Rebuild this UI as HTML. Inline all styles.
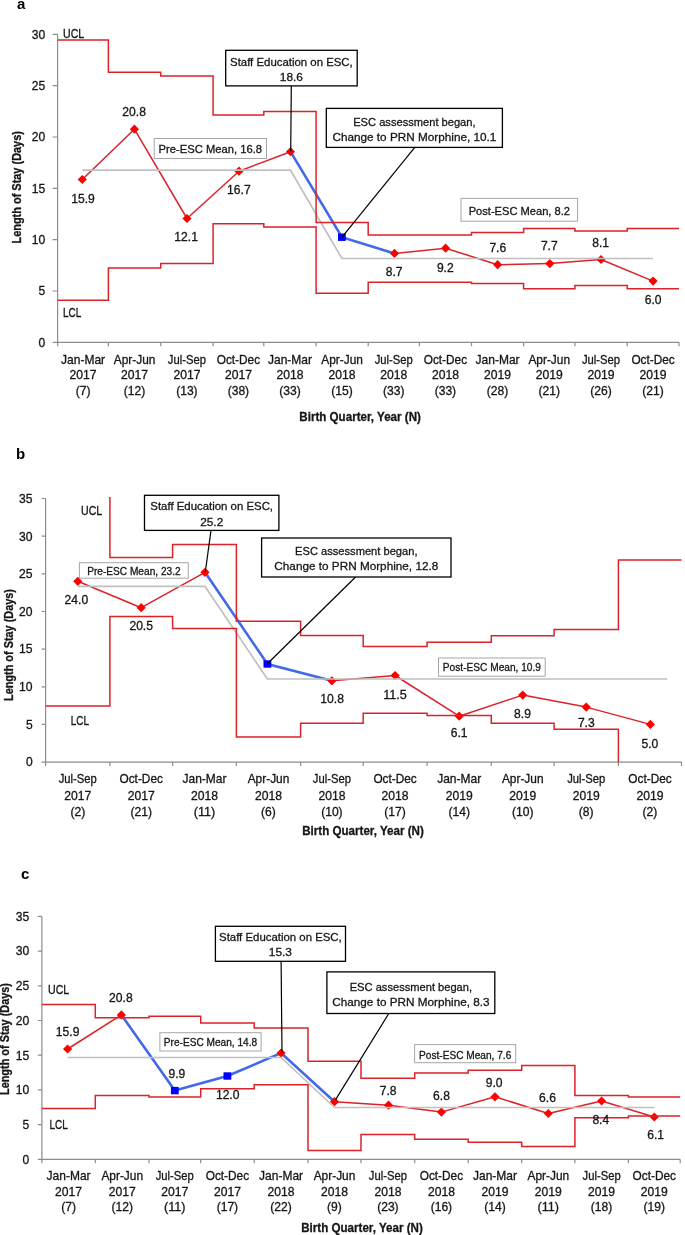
<!DOCTYPE html>
<html><head><meta charset="utf-8"><style>
html,body{margin:0;padding:0;background:#fff;}
svg{display:block;will-change:transform;}
text{font-family:"Liberation Sans", sans-serif;}
</style></head><body>
<svg width="685" height="1235" viewBox="0 0 685 1235">
<rect width="685" height="1235" fill="#fff"/>
<path d="M57.6,34.3 L57.6,342.3 L679.0,342.3" fill="none" stroke="#8c8c8c" stroke-width="1.2"/>
<text x="45.2" y="346.6" font-size="11.90" text-anchor="end" font-weight="normal" fill="#161616" stroke="#161616" stroke-width="0.3" textLength="6.7" lengthAdjust="spacingAndGlyphs">0</text>
<text x="45.2" y="295.3" font-size="11.90" text-anchor="end" font-weight="normal" fill="#161616" stroke="#161616" stroke-width="0.3" textLength="6.7" lengthAdjust="spacingAndGlyphs">5</text>
<text x="45.2" y="243.9" font-size="11.90" text-anchor="end" font-weight="normal" fill="#161616" stroke="#161616" stroke-width="0.3" textLength="13.5" lengthAdjust="spacingAndGlyphs">10</text>
<text x="45.2" y="192.6" font-size="11.90" text-anchor="end" font-weight="normal" fill="#161616" stroke="#161616" stroke-width="0.3" textLength="13.5" lengthAdjust="spacingAndGlyphs">15</text>
<text x="45.2" y="141.3" font-size="11.90" text-anchor="end" font-weight="normal" fill="#161616" stroke="#161616" stroke-width="0.3" textLength="13.5" lengthAdjust="spacingAndGlyphs">20</text>
<text x="45.2" y="89.9" font-size="11.90" text-anchor="end" font-weight="normal" fill="#161616" stroke="#161616" stroke-width="0.3" textLength="13.5" lengthAdjust="spacingAndGlyphs">25</text>
<text x="45.2" y="38.6" font-size="11.90" text-anchor="end" font-weight="normal" fill="#161616" stroke="#161616" stroke-width="0.3" textLength="13.5" lengthAdjust="spacingAndGlyphs">30</text>
<path d="M52.6,342.3 L57.6,342.3 M52.6,291.0 L57.6,291.0 M52.6,239.6 L57.6,239.6 M52.6,188.3 L57.6,188.3 M52.6,137.0 L57.6,137.0 M52.6,85.6 L57.6,85.6 M52.6,34.3 L57.6,34.3 M57.7,342.3 L57.7,346.3 M108.4,342.3 L108.4,346.3 M160.7,342.3 L160.7,346.3 M213.1,342.3 L213.1,346.3 M263.8,342.3 L263.8,346.3 M316.1,342.3 L316.1,346.3 M368.2,342.3 L368.2,346.3 M419.4,342.3 L419.4,346.3 M471.5,342.3 L471.5,346.3 M523.6,342.3 L523.6,346.3 M574.9,342.3 L574.9,346.3 M627.2,342.3 L627.2,346.3 M679.0,342.3 L679.0,346.3" stroke="#8c8c8c" stroke-width="1.2" fill="none"/>
<text x="83.1" y="364.2" font-size="11.90" text-anchor="middle" font-weight="normal" fill="#161616" stroke="#161616" stroke-width="0.3" textLength="44.0" lengthAdjust="spacingAndGlyphs">Jan-Mar</text>
<text x="83.1" y="379.4" font-size="11.90" text-anchor="middle" font-weight="normal" fill="#161616" stroke="#161616" stroke-width="0.3" textLength="27.0" lengthAdjust="spacingAndGlyphs">2017</text>
<text x="83.1" y="394.6" font-size="11.90" text-anchor="middle" font-weight="normal" fill="#161616" stroke="#161616" stroke-width="0.3" textLength="14.8" lengthAdjust="spacingAndGlyphs">(7)</text>
<text x="134.6" y="364.2" font-size="11.90" text-anchor="middle" font-weight="normal" fill="#161616" stroke="#161616" stroke-width="0.3" textLength="41.6" lengthAdjust="spacingAndGlyphs">Apr-Jun</text>
<text x="134.6" y="379.4" font-size="11.90" text-anchor="middle" font-weight="normal" fill="#161616" stroke="#161616" stroke-width="0.3" textLength="27.0" lengthAdjust="spacingAndGlyphs">2017</text>
<text x="134.6" y="394.6" font-size="11.90" text-anchor="middle" font-weight="normal" fill="#161616" stroke="#161616" stroke-width="0.3" textLength="21.5" lengthAdjust="spacingAndGlyphs">(12)</text>
<text x="186.9" y="364.2" font-size="11.90" text-anchor="middle" font-weight="normal" fill="#161616" stroke="#161616" stroke-width="0.3" textLength="38.1" lengthAdjust="spacingAndGlyphs">Jul-Sep</text>
<text x="186.9" y="379.4" font-size="11.90" text-anchor="middle" font-weight="normal" fill="#161616" stroke="#161616" stroke-width="0.3" textLength="27.0" lengthAdjust="spacingAndGlyphs">2017</text>
<text x="186.9" y="394.6" font-size="11.90" text-anchor="middle" font-weight="normal" fill="#161616" stroke="#161616" stroke-width="0.3" textLength="21.5" lengthAdjust="spacingAndGlyphs">(13)</text>
<text x="238.4" y="364.2" font-size="11.90" text-anchor="middle" font-weight="normal" fill="#161616" stroke="#161616" stroke-width="0.3" textLength="43.4" lengthAdjust="spacingAndGlyphs">Oct-Dec</text>
<text x="238.4" y="379.4" font-size="11.90" text-anchor="middle" font-weight="normal" fill="#161616" stroke="#161616" stroke-width="0.3" textLength="27.0" lengthAdjust="spacingAndGlyphs">2017</text>
<text x="238.4" y="394.6" font-size="11.90" text-anchor="middle" font-weight="normal" fill="#161616" stroke="#161616" stroke-width="0.3" textLength="21.5" lengthAdjust="spacingAndGlyphs">(38)</text>
<text x="290.0" y="364.2" font-size="11.90" text-anchor="middle" font-weight="normal" fill="#161616" stroke="#161616" stroke-width="0.3" textLength="44.0" lengthAdjust="spacingAndGlyphs">Jan-Mar</text>
<text x="290.0" y="379.4" font-size="11.90" text-anchor="middle" font-weight="normal" fill="#161616" stroke="#161616" stroke-width="0.3" textLength="27.0" lengthAdjust="spacingAndGlyphs">2018</text>
<text x="290.0" y="394.6" font-size="11.90" text-anchor="middle" font-weight="normal" fill="#161616" stroke="#161616" stroke-width="0.3" textLength="21.5" lengthAdjust="spacingAndGlyphs">(33)</text>
<text x="342.1" y="364.2" font-size="11.90" text-anchor="middle" font-weight="normal" fill="#161616" stroke="#161616" stroke-width="0.3" textLength="41.6" lengthAdjust="spacingAndGlyphs">Apr-Jun</text>
<text x="342.1" y="379.4" font-size="11.90" text-anchor="middle" font-weight="normal" fill="#161616" stroke="#161616" stroke-width="0.3" textLength="27.0" lengthAdjust="spacingAndGlyphs">2018</text>
<text x="342.1" y="394.6" font-size="11.90" text-anchor="middle" font-weight="normal" fill="#161616" stroke="#161616" stroke-width="0.3" textLength="21.5" lengthAdjust="spacingAndGlyphs">(15)</text>
<text x="393.8" y="364.2" font-size="11.90" text-anchor="middle" font-weight="normal" fill="#161616" stroke="#161616" stroke-width="0.3" textLength="38.1" lengthAdjust="spacingAndGlyphs">Jul-Sep</text>
<text x="393.8" y="379.4" font-size="11.90" text-anchor="middle" font-weight="normal" fill="#161616" stroke="#161616" stroke-width="0.3" textLength="27.0" lengthAdjust="spacingAndGlyphs">2018</text>
<text x="393.8" y="394.6" font-size="11.90" text-anchor="middle" font-weight="normal" fill="#161616" stroke="#161616" stroke-width="0.3" textLength="21.5" lengthAdjust="spacingAndGlyphs">(33)</text>
<text x="445.4" y="364.2" font-size="11.90" text-anchor="middle" font-weight="normal" fill="#161616" stroke="#161616" stroke-width="0.3" textLength="43.4" lengthAdjust="spacingAndGlyphs">Oct-Dec</text>
<text x="445.4" y="379.4" font-size="11.90" text-anchor="middle" font-weight="normal" fill="#161616" stroke="#161616" stroke-width="0.3" textLength="27.0" lengthAdjust="spacingAndGlyphs">2018</text>
<text x="445.4" y="394.6" font-size="11.90" text-anchor="middle" font-weight="normal" fill="#161616" stroke="#161616" stroke-width="0.3" textLength="21.5" lengthAdjust="spacingAndGlyphs">(33)</text>
<text x="497.6" y="364.2" font-size="11.90" text-anchor="middle" font-weight="normal" fill="#161616" stroke="#161616" stroke-width="0.3" textLength="44.0" lengthAdjust="spacingAndGlyphs">Jan-Mar</text>
<text x="497.6" y="379.4" font-size="11.90" text-anchor="middle" font-weight="normal" fill="#161616" stroke="#161616" stroke-width="0.3" textLength="27.0" lengthAdjust="spacingAndGlyphs">2019</text>
<text x="497.6" y="394.6" font-size="11.90" text-anchor="middle" font-weight="normal" fill="#161616" stroke="#161616" stroke-width="0.3" textLength="21.5" lengthAdjust="spacingAndGlyphs">(28)</text>
<text x="549.2" y="364.2" font-size="11.90" text-anchor="middle" font-weight="normal" fill="#161616" stroke="#161616" stroke-width="0.3" textLength="41.6" lengthAdjust="spacingAndGlyphs">Apr-Jun</text>
<text x="549.2" y="379.4" font-size="11.90" text-anchor="middle" font-weight="normal" fill="#161616" stroke="#161616" stroke-width="0.3" textLength="27.0" lengthAdjust="spacingAndGlyphs">2019</text>
<text x="549.2" y="394.6" font-size="11.90" text-anchor="middle" font-weight="normal" fill="#161616" stroke="#161616" stroke-width="0.3" textLength="21.5" lengthAdjust="spacingAndGlyphs">(21)</text>
<text x="601.0" y="364.2" font-size="11.90" text-anchor="middle" font-weight="normal" fill="#161616" stroke="#161616" stroke-width="0.3" textLength="38.1" lengthAdjust="spacingAndGlyphs">Jul-Sep</text>
<text x="601.0" y="379.4" font-size="11.90" text-anchor="middle" font-weight="normal" fill="#161616" stroke="#161616" stroke-width="0.3" textLength="27.0" lengthAdjust="spacingAndGlyphs">2019</text>
<text x="601.0" y="394.6" font-size="11.90" text-anchor="middle" font-weight="normal" fill="#161616" stroke="#161616" stroke-width="0.3" textLength="21.5" lengthAdjust="spacingAndGlyphs">(26)</text>
<text x="653.1" y="364.2" font-size="11.90" text-anchor="middle" font-weight="normal" fill="#161616" stroke="#161616" stroke-width="0.3" textLength="43.4" lengthAdjust="spacingAndGlyphs">Oct-Dec</text>
<text x="653.1" y="379.4" font-size="11.90" text-anchor="middle" font-weight="normal" fill="#161616" stroke="#161616" stroke-width="0.3" textLength="27.0" lengthAdjust="spacingAndGlyphs">2019</text>
<text x="653.1" y="394.6" font-size="11.90" text-anchor="middle" font-weight="normal" fill="#161616" stroke="#161616" stroke-width="0.3" textLength="21.5" lengthAdjust="spacingAndGlyphs">(21)</text>
<text x="360.1" y="421.0" font-size="12.40" text-anchor="middle" font-weight="bold" fill="#161616" stroke="#161616" stroke-width="0.3" textLength="121.6" lengthAdjust="spacingAndGlyphs">Birth Quarter, Year (N)</text>
<text x="0.0" y="0.0" font-size="12.40" text-anchor="middle" font-weight="bold" fill="#161616" stroke="#161616" stroke-width="0.3" textLength="112.5" lengthAdjust="spacingAndGlyphs" transform="translate(20.5,187.3) rotate(-90)">Length of Stay (Days)</text>
<path d="M82.3,179.5 L134.4,129.2" fill="none" stroke="#dc2228" stroke-width="1.5" stroke-linejoin="miter"/>
<path d="M134.4,129.2 L187.0,218.5" fill="none" stroke="#dc2228" stroke-width="1.5" stroke-linejoin="miter"/>
<path d="M187.0,218.5 L239.0,171.2" fill="none" stroke="#dc2228" stroke-width="1.5" stroke-linejoin="miter"/>
<path d="M239.0,171.2 L290.5,151.7" fill="none" stroke="#dc2228" stroke-width="1.5" stroke-linejoin="miter"/>
<path d="M394.5,253.4 L445.6,248.2" fill="none" stroke="#dc2228" stroke-width="1.5" stroke-linejoin="miter"/>
<path d="M445.6,248.2 L497.6,264.7" fill="none" stroke="#dc2228" stroke-width="1.5" stroke-linejoin="miter"/>
<path d="M497.6,264.7 L549.8,263.6" fill="none" stroke="#dc2228" stroke-width="1.5" stroke-linejoin="miter"/>
<path d="M549.8,263.6 L601.0,259.5" fill="none" stroke="#dc2228" stroke-width="1.5" stroke-linejoin="miter"/>
<path d="M601.0,259.5 L653.1,281.1" fill="none" stroke="#dc2228" stroke-width="1.5" stroke-linejoin="miter"/>
<path d="M290.5,151.7 L341.9,237.2 L394.5,253.4" fill="none" stroke="#4169e8" stroke-width="2.6" stroke-linejoin="miter"/>
<path d="M82.3,174.9 L86.9,179.5 L82.3,184.1 L77.7,179.5Z" fill="#ff0000"/>
<path d="M134.4,124.6 L139.0,129.2 L134.4,133.8 L129.8,129.2Z" fill="#ff0000"/>
<path d="M187.0,213.9 L191.6,218.5 L187.0,223.1 L182.4,218.5Z" fill="#ff0000"/>
<path d="M239.0,166.6 L243.6,171.2 L239.0,175.8 L234.4,171.2Z" fill="#ff0000"/>
<path d="M290.5,147.1 L295.1,151.7 L290.5,156.3 L285.9,151.7Z" fill="#ff0000"/>
<rect x="338.0" y="233.5" width="7.8" height="7.4" fill="#0000ff"/>
<path d="M394.5,248.8 L399.1,253.4 L394.5,258.0 L389.9,253.4Z" fill="#ff0000"/>
<path d="M445.6,243.6 L450.2,248.2 L445.6,252.8 L441.0,248.2Z" fill="#ff0000"/>
<path d="M497.6,260.1 L502.2,264.7 L497.6,269.3 L493.0,264.7Z" fill="#ff0000"/>
<path d="M549.8,259.0 L554.4,263.6 L549.8,268.2 L545.2,263.6Z" fill="#ff0000"/>
<path d="M601.0,254.9 L605.6,259.5 L601.0,264.1 L596.4,259.5Z" fill="#ff0000"/>
<path d="M653.1,276.5 L657.7,281.1 L653.1,285.7 L648.5,281.1Z" fill="#ff0000"/>
<path d="M82.3,170.2 L290.5,170.2 L341.9,258.5 L653.1,258.5" fill="none" stroke="#c0c0c0" stroke-width="1.7" stroke-linejoin="miter"/>
<clipPath id="clip576"><rect x="57.6" y="28.3" width="624.4" height="314.0"/></clipPath>
<path d="M57.7,39.9 L108.4,39.9 L108.4,72.2 L160.7,72.2 L160.7,75.9 L213.1,75.9 L213.1,115.1 L263.8,115.1 L263.8,111.6 L316.1,111.6 L316.1,222.4 L368.2,222.4 L368.2,234.9 L419.4,234.9 L419.4,234.9 L471.5,234.9 L471.5,232.4 L523.6,232.4 L523.6,228.6 L574.9,228.6 L574.9,231.1 L627.2,231.1 L627.2,228.6 L679.0,228.6" fill="none" stroke="#dc2228" stroke-width="1.5" stroke-linejoin="miter" clip-path="url(#clip576)"/>
<path d="M57.7,300.3 L108.4,300.3 L108.4,268.0 L160.7,268.0 L160.7,263.5 L213.1,263.5 L213.1,223.8 L263.8,223.8 L263.8,226.9 L316.1,226.9 L316.1,293.3 L368.2,293.3 L368.2,282.2 L419.4,282.2 L419.4,282.2 L471.5,282.2 L471.5,283.4 L523.6,283.4 L523.6,288.8 L574.9,288.8 L574.9,285.4 L627.2,285.4 L627.2,288.8 L679.0,288.8" fill="none" stroke="#dc2228" stroke-width="1.5" stroke-linejoin="miter" clip-path="url(#clip576)"/>
<text x="83.0" y="202.8" font-size="11.90" text-anchor="middle" font-weight="normal" fill="#161616" stroke="#161616" stroke-width="0.3" textLength="23.6" lengthAdjust="spacingAndGlyphs">15.9</text>
<text x="134.1" y="116.2" font-size="11.90" text-anchor="middle" font-weight="normal" fill="#161616" stroke="#161616" stroke-width="0.3" textLength="23.6" lengthAdjust="spacingAndGlyphs">20.8</text>
<text x="186.1" y="240.6" font-size="11.90" text-anchor="middle" font-weight="normal" fill="#161616" stroke="#161616" stroke-width="0.3" textLength="23.6" lengthAdjust="spacingAndGlyphs">12.1</text>
<text x="238.9" y="193.7" font-size="11.90" text-anchor="middle" font-weight="normal" fill="#161616" stroke="#161616" stroke-width="0.3" textLength="23.6" lengthAdjust="spacingAndGlyphs">16.7</text>
<text x="394.2" y="275.6" font-size="11.90" text-anchor="middle" font-weight="normal" fill="#161616" stroke="#161616" stroke-width="0.3" textLength="16.8" lengthAdjust="spacingAndGlyphs">8.7</text>
<text x="445.3" y="271.6" font-size="11.90" text-anchor="middle" font-weight="normal" fill="#161616" stroke="#161616" stroke-width="0.3" textLength="16.8" lengthAdjust="spacingAndGlyphs">9.2</text>
<text x="497.8" y="252.2" font-size="11.90" text-anchor="middle" font-weight="normal" fill="#161616" stroke="#161616" stroke-width="0.3" textLength="16.8" lengthAdjust="spacingAndGlyphs">7.6</text>
<text x="549.3" y="250.4" font-size="11.90" text-anchor="middle" font-weight="normal" fill="#161616" stroke="#161616" stroke-width="0.3" textLength="16.8" lengthAdjust="spacingAndGlyphs">7.7</text>
<text x="600.6" y="247.0" font-size="11.90" text-anchor="middle" font-weight="normal" fill="#161616" stroke="#161616" stroke-width="0.3" textLength="16.8" lengthAdjust="spacingAndGlyphs">8.1</text>
<text x="653.2" y="304.4" font-size="11.90" text-anchor="middle" font-weight="normal" fill="#161616" stroke="#161616" stroke-width="0.3" textLength="16.8" lengthAdjust="spacingAndGlyphs">6.0</text>
<text x="63.0" y="38.0" font-size="11.90" text-anchor="start" font-weight="normal" fill="#161616" stroke="#161616" stroke-width="0.3" textLength="21.2" lengthAdjust="spacingAndGlyphs">UCL</text>
<text x="63.0" y="316.7" font-size="11.90" text-anchor="start" font-weight="normal" fill="#161616" stroke="#161616" stroke-width="0.3" textLength="18.3" lengthAdjust="spacingAndGlyphs">LCL</text>
<rect x="154.2" y="138.5" width="112.3" height="20.0" fill="#fff" stroke="#a6a6a6" stroke-width="1"/>
<text x="210.3" y="153.3" font-size="11.59" text-anchor="middle" font-weight="normal" fill="#161616" stroke="#161616" stroke-width="0.3" textLength="103.4" lengthAdjust="spacingAndGlyphs">Pre-ESC Mean, 16.8</text>
<rect x="461.0" y="198.4" width="116.6" height="22.8" fill="#fff" stroke="#a6a6a6" stroke-width="1"/>
<text x="519.3" y="215.0" font-size="11.50" text-anchor="middle" font-weight="normal" fill="#161616" stroke="#161616" stroke-width="0.3" textLength="101.3" lengthAdjust="spacingAndGlyphs">Post-ESC Mean, 8.2</text>
<path d="M291.3,85.9 L290.7,151.3" fill="none" stroke="#000" stroke-width="1.2" stroke-linejoin="miter"/>
<rect x="225.7" y="50.3" width="131.5" height="35.6" fill="#fff" stroke="#000" stroke-width="1.3"/>
<text x="291.4" y="66.2" font-size="11.68" text-anchor="middle" font-weight="normal" fill="#161616" stroke="#161616" stroke-width="0.3" textLength="122.7" lengthAdjust="spacingAndGlyphs">Staff Education on ESC,</text>
<text x="291.4" y="81.4" font-size="11.68" text-anchor="middle" font-weight="normal" fill="#161616" stroke="#161616" stroke-width="0.3" textLength="23.1" lengthAdjust="spacingAndGlyphs">18.6</text>
<path d="M414.8,147.4 L342.0,237.2" fill="none" stroke="#000" stroke-width="1.2" stroke-linejoin="miter"/>
<rect x="326.3" y="108.4" width="176.1" height="39.0" fill="#fff" stroke="#000" stroke-width="1.3"/>
<text x="414.4" y="126.3" font-size="11.68" text-anchor="middle" font-weight="normal" fill="#161616" stroke="#161616" stroke-width="0.3" textLength="122.4" lengthAdjust="spacingAndGlyphs">ESC assessment began,</text>
<text x="414.4" y="141.2" font-size="11.68" text-anchor="middle" font-weight="normal" fill="#161616" stroke="#161616" stroke-width="0.3" textLength="163.9" lengthAdjust="spacingAndGlyphs">Change to PRN Morphine, 10.1</text>
<text x="17" y="8.6" font-size="15" font-weight="bold" fill="#000">a</text>
<path d="M45.6,498.5 L45.6,762.1 L681.5,762.1" fill="none" stroke="#8c8c8c" stroke-width="1.2"/>
<text x="32.6" y="766.4" font-size="11.90" text-anchor="end" font-weight="normal" fill="#161616" stroke="#161616" stroke-width="0.3" textLength="6.7" lengthAdjust="spacingAndGlyphs">0</text>
<text x="32.6" y="728.7" font-size="11.90" text-anchor="end" font-weight="normal" fill="#161616" stroke="#161616" stroke-width="0.3" textLength="6.7" lengthAdjust="spacingAndGlyphs">5</text>
<text x="32.6" y="691.1" font-size="11.90" text-anchor="end" font-weight="normal" fill="#161616" stroke="#161616" stroke-width="0.3" textLength="13.5" lengthAdjust="spacingAndGlyphs">10</text>
<text x="32.6" y="653.4" font-size="11.90" text-anchor="end" font-weight="normal" fill="#161616" stroke="#161616" stroke-width="0.3" textLength="13.5" lengthAdjust="spacingAndGlyphs">15</text>
<text x="32.6" y="615.8" font-size="11.90" text-anchor="end" font-weight="normal" fill="#161616" stroke="#161616" stroke-width="0.3" textLength="13.5" lengthAdjust="spacingAndGlyphs">20</text>
<text x="32.6" y="578.1" font-size="11.90" text-anchor="end" font-weight="normal" fill="#161616" stroke="#161616" stroke-width="0.3" textLength="13.5" lengthAdjust="spacingAndGlyphs">25</text>
<text x="32.6" y="540.5" font-size="11.90" text-anchor="end" font-weight="normal" fill="#161616" stroke="#161616" stroke-width="0.3" textLength="13.5" lengthAdjust="spacingAndGlyphs">30</text>
<text x="32.6" y="502.8" font-size="11.90" text-anchor="end" font-weight="normal" fill="#161616" stroke="#161616" stroke-width="0.3" textLength="13.5" lengthAdjust="spacingAndGlyphs">35</text>
<path d="M41.6,762.1 L45.6,762.1 M41.6,724.4 L45.6,724.4 M41.6,686.8 L45.6,686.8 M41.6,649.1 L45.6,649.1 M41.6,611.5 L45.6,611.5 M41.6,573.8 L45.6,573.8 M41.6,536.2 L45.6,536.2 M41.6,498.5 L45.6,498.5 M45.6,762.1 L45.6,766.1 M109.9,762.1 L109.9,766.1 M172.6,762.1 L172.6,766.1 M236.4,762.1 L236.4,766.1 M300.6,762.1 L300.6,766.1 M363.2,762.1 L363.2,766.1 M427.1,762.1 L427.1,766.1 M491.3,762.1 L491.3,766.1 M554.1,762.1 L554.1,766.1 M618.4,762.1 L618.4,766.1 M681.5,762.1 L681.5,766.1" stroke="#8c8c8c" stroke-width="1.2" fill="none"/>
<text x="77.8" y="783.4" font-size="11.90" text-anchor="middle" font-weight="normal" fill="#161616" stroke="#161616" stroke-width="0.3" textLength="38.1" lengthAdjust="spacingAndGlyphs">Jul-Sep</text>
<text x="77.8" y="799.5" font-size="11.90" text-anchor="middle" font-weight="normal" fill="#161616" stroke="#161616" stroke-width="0.3" textLength="27.0" lengthAdjust="spacingAndGlyphs">2017</text>
<text x="77.8" y="816.1" font-size="11.90" text-anchor="middle" font-weight="normal" fill="#161616" stroke="#161616" stroke-width="0.3" textLength="14.8" lengthAdjust="spacingAndGlyphs">(2)</text>
<text x="141.2" y="783.4" font-size="11.90" text-anchor="middle" font-weight="normal" fill="#161616" stroke="#161616" stroke-width="0.3" textLength="43.4" lengthAdjust="spacingAndGlyphs">Oct-Dec</text>
<text x="141.2" y="799.5" font-size="11.90" text-anchor="middle" font-weight="normal" fill="#161616" stroke="#161616" stroke-width="0.3" textLength="27.0" lengthAdjust="spacingAndGlyphs">2017</text>
<text x="141.2" y="816.1" font-size="11.90" text-anchor="middle" font-weight="normal" fill="#161616" stroke="#161616" stroke-width="0.3" textLength="21.5" lengthAdjust="spacingAndGlyphs">(21)</text>
<text x="204.5" y="783.4" font-size="11.90" text-anchor="middle" font-weight="normal" fill="#161616" stroke="#161616" stroke-width="0.3" textLength="44.0" lengthAdjust="spacingAndGlyphs">Jan-Mar</text>
<text x="204.5" y="799.5" font-size="11.90" text-anchor="middle" font-weight="normal" fill="#161616" stroke="#161616" stroke-width="0.3" textLength="27.0" lengthAdjust="spacingAndGlyphs">2018</text>
<text x="204.5" y="816.1" font-size="11.90" text-anchor="middle" font-weight="normal" fill="#161616" stroke="#161616" stroke-width="0.3" textLength="21.5" lengthAdjust="spacingAndGlyphs">(11)</text>
<text x="268.5" y="783.4" font-size="11.90" text-anchor="middle" font-weight="normal" fill="#161616" stroke="#161616" stroke-width="0.3" textLength="41.6" lengthAdjust="spacingAndGlyphs">Apr-Jun</text>
<text x="268.5" y="799.5" font-size="11.90" text-anchor="middle" font-weight="normal" fill="#161616" stroke="#161616" stroke-width="0.3" textLength="27.0" lengthAdjust="spacingAndGlyphs">2018</text>
<text x="268.5" y="816.1" font-size="11.90" text-anchor="middle" font-weight="normal" fill="#161616" stroke="#161616" stroke-width="0.3" textLength="14.8" lengthAdjust="spacingAndGlyphs">(6)</text>
<text x="331.9" y="783.4" font-size="11.90" text-anchor="middle" font-weight="normal" fill="#161616" stroke="#161616" stroke-width="0.3" textLength="38.1" lengthAdjust="spacingAndGlyphs">Jul-Sep</text>
<text x="331.9" y="799.5" font-size="11.90" text-anchor="middle" font-weight="normal" fill="#161616" stroke="#161616" stroke-width="0.3" textLength="27.0" lengthAdjust="spacingAndGlyphs">2018</text>
<text x="331.9" y="816.1" font-size="11.90" text-anchor="middle" font-weight="normal" fill="#161616" stroke="#161616" stroke-width="0.3" textLength="21.5" lengthAdjust="spacingAndGlyphs">(10)</text>
<text x="395.1" y="783.4" font-size="11.90" text-anchor="middle" font-weight="normal" fill="#161616" stroke="#161616" stroke-width="0.3" textLength="43.4" lengthAdjust="spacingAndGlyphs">Oct-Dec</text>
<text x="395.1" y="799.5" font-size="11.90" text-anchor="middle" font-weight="normal" fill="#161616" stroke="#161616" stroke-width="0.3" textLength="27.0" lengthAdjust="spacingAndGlyphs">2018</text>
<text x="395.1" y="816.1" font-size="11.90" text-anchor="middle" font-weight="normal" fill="#161616" stroke="#161616" stroke-width="0.3" textLength="21.5" lengthAdjust="spacingAndGlyphs">(17)</text>
<text x="459.2" y="783.4" font-size="11.90" text-anchor="middle" font-weight="normal" fill="#161616" stroke="#161616" stroke-width="0.3" textLength="44.0" lengthAdjust="spacingAndGlyphs">Jan-Mar</text>
<text x="459.2" y="799.5" font-size="11.90" text-anchor="middle" font-weight="normal" fill="#161616" stroke="#161616" stroke-width="0.3" textLength="27.0" lengthAdjust="spacingAndGlyphs">2019</text>
<text x="459.2" y="816.1" font-size="11.90" text-anchor="middle" font-weight="normal" fill="#161616" stroke="#161616" stroke-width="0.3" textLength="21.5" lengthAdjust="spacingAndGlyphs">(14)</text>
<text x="522.7" y="783.4" font-size="11.90" text-anchor="middle" font-weight="normal" fill="#161616" stroke="#161616" stroke-width="0.3" textLength="41.6" lengthAdjust="spacingAndGlyphs">Apr-Jun</text>
<text x="522.7" y="799.5" font-size="11.90" text-anchor="middle" font-weight="normal" fill="#161616" stroke="#161616" stroke-width="0.3" textLength="27.0" lengthAdjust="spacingAndGlyphs">2019</text>
<text x="522.7" y="816.1" font-size="11.90" text-anchor="middle" font-weight="normal" fill="#161616" stroke="#161616" stroke-width="0.3" textLength="21.5" lengthAdjust="spacingAndGlyphs">(10)</text>
<text x="586.2" y="783.4" font-size="11.90" text-anchor="middle" font-weight="normal" fill="#161616" stroke="#161616" stroke-width="0.3" textLength="38.1" lengthAdjust="spacingAndGlyphs">Jul-Sep</text>
<text x="586.2" y="799.5" font-size="11.90" text-anchor="middle" font-weight="normal" fill="#161616" stroke="#161616" stroke-width="0.3" textLength="27.0" lengthAdjust="spacingAndGlyphs">2019</text>
<text x="586.2" y="816.1" font-size="11.90" text-anchor="middle" font-weight="normal" fill="#161616" stroke="#161616" stroke-width="0.3" textLength="14.8" lengthAdjust="spacingAndGlyphs">(8)</text>
<text x="650.0" y="783.4" font-size="11.90" text-anchor="middle" font-weight="normal" fill="#161616" stroke="#161616" stroke-width="0.3" textLength="43.4" lengthAdjust="spacingAndGlyphs">Oct-Dec</text>
<text x="650.0" y="799.5" font-size="11.90" text-anchor="middle" font-weight="normal" fill="#161616" stroke="#161616" stroke-width="0.3" textLength="27.0" lengthAdjust="spacingAndGlyphs">2019</text>
<text x="650.0" y="816.1" font-size="11.90" text-anchor="middle" font-weight="normal" fill="#161616" stroke="#161616" stroke-width="0.3" textLength="14.8" lengthAdjust="spacingAndGlyphs">(2)</text>
<text x="363.0" y="834.8" font-size="12.40" text-anchor="middle" font-weight="bold" fill="#161616" stroke="#161616" stroke-width="0.3" textLength="121.6" lengthAdjust="spacingAndGlyphs">Birth Quarter, Year (N)</text>
<text x="0.0" y="0.0" font-size="12.40" text-anchor="middle" font-weight="bold" fill="#161616" stroke="#161616" stroke-width="0.3" textLength="112.0" lengthAdjust="spacingAndGlyphs" transform="translate(12.5,645.0) rotate(-90)">Length of Stay (Days)</text>
<path d="M77.8,581.3 L141.2,607.7" fill="none" stroke="#dc2228" stroke-width="1.5" stroke-linejoin="miter"/>
<path d="M141.2,607.7 L205.0,572.3" fill="none" stroke="#dc2228" stroke-width="1.5" stroke-linejoin="miter"/>
<path d="M331.9,680.8 L395.1,675.5" fill="none" stroke="#dc2228" stroke-width="1.5" stroke-linejoin="miter"/>
<path d="M395.1,675.5 L459.2,716.2" fill="none" stroke="#dc2228" stroke-width="1.5" stroke-linejoin="miter"/>
<path d="M459.2,716.2 L522.7,695.1" fill="none" stroke="#dc2228" stroke-width="1.5" stroke-linejoin="miter"/>
<path d="M522.7,695.1 L586.2,707.1" fill="none" stroke="#dc2228" stroke-width="1.5" stroke-linejoin="miter"/>
<path d="M586.2,707.1 L650.4,724.4" fill="none" stroke="#dc2228" stroke-width="1.5" stroke-linejoin="miter"/>
<path d="M205.0,572.3 L267.4,664.0 L331.9,680.8" fill="none" stroke="#4169e8" stroke-width="2.6" stroke-linejoin="miter"/>
<path d="M77.8,576.7 L82.3,581.3 L77.8,585.9 L73.2,581.3Z" fill="#ff0000"/>
<path d="M141.2,603.1 L145.8,607.7 L141.2,612.3 L136.7,607.7Z" fill="#ff0000"/>
<path d="M205.0,567.7 L209.6,572.3 L205.0,576.9 L200.4,572.3Z" fill="#ff0000"/>
<rect x="263.5" y="660.3" width="7.8" height="7.4" fill="#0000ff"/>
<path d="M331.9,676.2 L336.5,680.8 L331.9,685.4 L327.3,680.8Z" fill="#ff0000"/>
<path d="M395.1,670.9 L399.8,675.5 L395.1,680.1 L390.5,675.5Z" fill="#ff0000"/>
<path d="M459.2,711.6 L463.8,716.2 L459.2,720.8 L454.6,716.2Z" fill="#ff0000"/>
<path d="M522.7,690.5 L527.3,695.1 L522.7,699.7 L518.1,695.1Z" fill="#ff0000"/>
<path d="M586.2,702.5 L590.9,707.1 L586.2,711.7 L581.6,707.1Z" fill="#ff0000"/>
<path d="M650.4,719.8 L655.0,724.4 L650.4,729.0 L645.8,724.4Z" fill="#ff0000"/>
<path d="M77.8,586.4 L205.0,586.4 L267.4,679.0 L667.3,679.0" fill="none" stroke="#c0c0c0" stroke-width="1.7" stroke-linejoin="miter"/>
<clipPath id="clip456"><rect x="45.6" y="496.9" width="638.9" height="265.2"/></clipPath>
<path d="M45.6,400.0 L109.9,400.0 L109.9,557.4 L172.6,557.4 L172.6,544.6 L236.4,544.6 L236.4,621.3 L300.6,621.3 L300.6,635.6 L363.2,635.6 L363.2,646.4 L427.1,646.4 L427.1,642.3 L491.3,642.3 L491.3,635.8 L554.1,635.8 L554.1,629.5 L618.4,629.5 L618.4,560.0 L681.5,560.0" fill="none" stroke="#dc2228" stroke-width="1.5" stroke-linejoin="miter" clip-path="url(#clip456)"/>
<path d="M45.6,706.0 L109.9,706.0 L109.9,616.6 L172.6,616.6 L172.6,628.5 L236.4,628.5 L236.4,737.1 L300.6,737.1 L300.6,723.3 L363.2,723.3 L363.2,713.3 L427.1,713.3 L427.1,715.6 L491.3,715.6 L491.3,723.3 L554.1,723.3 L554.1,729.2 L618.4,729.2 L618.4,900.0 L681.5,900.0" fill="none" stroke="#dc2228" stroke-width="1.5" stroke-linejoin="miter" clip-path="url(#clip456)"/>
<text x="76.4" y="603.6" font-size="11.90" text-anchor="middle" font-weight="normal" fill="#161616" stroke="#161616" stroke-width="0.3" textLength="23.6" lengthAdjust="spacingAndGlyphs">24.0</text>
<text x="141.2" y="629.8" font-size="11.90" text-anchor="middle" font-weight="normal" fill="#161616" stroke="#161616" stroke-width="0.3" textLength="23.6" lengthAdjust="spacingAndGlyphs">20.5</text>
<text x="332.1" y="703.3" font-size="11.90" text-anchor="middle" font-weight="normal" fill="#161616" stroke="#161616" stroke-width="0.3" textLength="23.6" lengthAdjust="spacingAndGlyphs">10.8</text>
<text x="395.0" y="698.9" font-size="11.90" text-anchor="middle" font-weight="normal" fill="#161616" stroke="#161616" stroke-width="0.3" textLength="23.6" lengthAdjust="spacingAndGlyphs">11.5</text>
<text x="459.2" y="736.8" font-size="11.90" text-anchor="middle" font-weight="normal" fill="#161616" stroke="#161616" stroke-width="0.3" textLength="16.8" lengthAdjust="spacingAndGlyphs">6.1</text>
<text x="522.5" y="717.8" font-size="11.90" text-anchor="middle" font-weight="normal" fill="#161616" stroke="#161616" stroke-width="0.3" textLength="16.8" lengthAdjust="spacingAndGlyphs">8.9</text>
<text x="586.3" y="726.6" font-size="11.90" text-anchor="middle" font-weight="normal" fill="#161616" stroke="#161616" stroke-width="0.3" textLength="16.8" lengthAdjust="spacingAndGlyphs">7.3</text>
<text x="649.9" y="747.6" font-size="11.90" text-anchor="middle" font-weight="normal" fill="#161616" stroke="#161616" stroke-width="0.3" textLength="16.8" lengthAdjust="spacingAndGlyphs">5.0</text>
<text x="81.0" y="515.3" font-size="11.90" text-anchor="start" font-weight="normal" fill="#161616" stroke="#161616" stroke-width="0.3" textLength="21.2" lengthAdjust="spacingAndGlyphs">UCL</text>
<text x="70.8" y="724.7" font-size="11.90" text-anchor="start" font-weight="normal" fill="#161616" stroke="#161616" stroke-width="0.3" textLength="18.3" lengthAdjust="spacingAndGlyphs">LCL</text>
<rect x="79.4" y="562.7" width="108.9" height="15.5" fill="#fff" stroke="#a6a6a6" stroke-width="1"/>
<text x="133.9" y="575.0" font-size="10.47" text-anchor="middle" font-weight="normal" fill="#161616" stroke="#161616" stroke-width="0.3" textLength="93.4" lengthAdjust="spacingAndGlyphs">Pre-ESC Mean, 23.2</text>
<rect x="438.5" y="658.0" width="106.7" height="18.2" fill="#fff" stroke="#a6a6a6" stroke-width="1"/>
<text x="491.9" y="671.3" font-size="10.47" text-anchor="middle" font-weight="normal" fill="#161616" stroke="#161616" stroke-width="0.3" textLength="98.1" lengthAdjust="spacingAndGlyphs">Post-ESC Mean, 10.9</text>
<path d="M211.0,530.4 L205.3,572.0" fill="none" stroke="#000" stroke-width="1.2" stroke-linejoin="miter"/>
<rect x="144.5" y="495.3" width="134.4" height="35.1" fill="#fff" stroke="#000" stroke-width="1.3"/>
<text x="211.7" y="510.0" font-size="11.68" text-anchor="middle" font-weight="normal" fill="#161616" stroke="#161616" stroke-width="0.3" textLength="122.7" lengthAdjust="spacingAndGlyphs">Staff Education on ESC,</text>
<text x="211.7" y="525.6" font-size="11.68" text-anchor="middle" font-weight="normal" fill="#161616" stroke="#161616" stroke-width="0.3" textLength="23.1" lengthAdjust="spacingAndGlyphs">25.2</text>
<path d="M355.6,577.0 L267.1,664.0" fill="none" stroke="#000" stroke-width="1.2" stroke-linejoin="miter"/>
<rect x="261.6" y="538.0" width="189.4" height="39.0" fill="#fff" stroke="#000" stroke-width="1.3"/>
<text x="356.3" y="554.5" font-size="11.68" text-anchor="middle" font-weight="normal" fill="#161616" stroke="#161616" stroke-width="0.3" textLength="122.4" lengthAdjust="spacingAndGlyphs">ESC assessment began,</text>
<text x="356.3" y="570.3" font-size="11.68" text-anchor="middle" font-weight="normal" fill="#161616" stroke="#161616" stroke-width="0.3" textLength="163.9" lengthAdjust="spacingAndGlyphs">Change to PRN Morphine, 12.8</text>
<text x="16" y="458.8" font-size="15" font-weight="bold" fill="#000">b</text>
<path d="M41.9,916.4 L41.9,1159.3 L680.2,1159.3" fill="none" stroke="#8c8c8c" stroke-width="1.2"/>
<text x="29.3" y="1163.6" font-size="11.90" text-anchor="end" font-weight="normal" fill="#161616" stroke="#161616" stroke-width="0.3" textLength="6.7" lengthAdjust="spacingAndGlyphs">0</text>
<text x="29.3" y="1128.9" font-size="11.90" text-anchor="end" font-weight="normal" fill="#161616" stroke="#161616" stroke-width="0.3" textLength="6.7" lengthAdjust="spacingAndGlyphs">5</text>
<text x="29.3" y="1094.2" font-size="11.90" text-anchor="end" font-weight="normal" fill="#161616" stroke="#161616" stroke-width="0.3" textLength="13.5" lengthAdjust="spacingAndGlyphs">10</text>
<text x="29.3" y="1059.5" font-size="11.90" text-anchor="end" font-weight="normal" fill="#161616" stroke="#161616" stroke-width="0.3" textLength="13.5" lengthAdjust="spacingAndGlyphs">15</text>
<text x="29.3" y="1024.8" font-size="11.90" text-anchor="end" font-weight="normal" fill="#161616" stroke="#161616" stroke-width="0.3" textLength="13.5" lengthAdjust="spacingAndGlyphs">20</text>
<text x="29.3" y="990.1" font-size="11.90" text-anchor="end" font-weight="normal" fill="#161616" stroke="#161616" stroke-width="0.3" textLength="13.5" lengthAdjust="spacingAndGlyphs">25</text>
<text x="29.3" y="955.4" font-size="11.90" text-anchor="end" font-weight="normal" fill="#161616" stroke="#161616" stroke-width="0.3" textLength="13.5" lengthAdjust="spacingAndGlyphs">30</text>
<text x="29.3" y="920.7" font-size="11.90" text-anchor="end" font-weight="normal" fill="#161616" stroke="#161616" stroke-width="0.3" textLength="13.5" lengthAdjust="spacingAndGlyphs">35</text>
<path d="M37.9,1159.3 L41.9,1159.3 M37.9,1124.6 L41.9,1124.6 M37.9,1089.9 L41.9,1089.9 M37.9,1055.2 L41.9,1055.2 M37.9,1020.5 L41.9,1020.5 M37.9,985.8 L41.9,985.8 M37.9,951.1 L41.9,951.1 M37.9,916.4 L41.9,916.4 M41.9,1159.3 L41.9,1163.3 M95.3,1159.3 L95.3,1163.3 M149.0,1159.3 L149.0,1163.3 M200.7,1159.3 L200.7,1163.3 M254.2,1159.3 L254.2,1163.3 M308.0,1159.3 L308.0,1163.3 M361.0,1159.3 L361.0,1163.3 M414.7,1159.3 L414.7,1163.3 M468.2,1159.3 L468.2,1163.3 M521.7,1159.3 L521.7,1163.3 M574.9,1159.3 L574.9,1163.3 M628.4,1159.3 L628.4,1163.3 M680.2,1159.3 L680.2,1163.3" stroke="#8c8c8c" stroke-width="1.2" fill="none"/>
<text x="68.6" y="1179.9" font-size="11.90" text-anchor="middle" font-weight="normal" fill="#161616" stroke="#161616" stroke-width="0.3" textLength="44.0" lengthAdjust="spacingAndGlyphs">Jan-Mar</text>
<text x="68.6" y="1196.3" font-size="11.90" text-anchor="middle" font-weight="normal" fill="#161616" stroke="#161616" stroke-width="0.3" textLength="27.0" lengthAdjust="spacingAndGlyphs">2017</text>
<text x="68.6" y="1211.4" font-size="11.90" text-anchor="middle" font-weight="normal" fill="#161616" stroke="#161616" stroke-width="0.3" textLength="14.8" lengthAdjust="spacingAndGlyphs">(7)</text>
<text x="122.2" y="1179.9" font-size="11.90" text-anchor="middle" font-weight="normal" fill="#161616" stroke="#161616" stroke-width="0.3" textLength="41.6" lengthAdjust="spacingAndGlyphs">Apr-Jun</text>
<text x="122.2" y="1196.3" font-size="11.90" text-anchor="middle" font-weight="normal" fill="#161616" stroke="#161616" stroke-width="0.3" textLength="27.0" lengthAdjust="spacingAndGlyphs">2017</text>
<text x="122.2" y="1211.4" font-size="11.90" text-anchor="middle" font-weight="normal" fill="#161616" stroke="#161616" stroke-width="0.3" textLength="21.5" lengthAdjust="spacingAndGlyphs">(12)</text>
<text x="174.8" y="1179.9" font-size="11.90" text-anchor="middle" font-weight="normal" fill="#161616" stroke="#161616" stroke-width="0.3" textLength="38.1" lengthAdjust="spacingAndGlyphs">Jul-Sep</text>
<text x="174.8" y="1196.3" font-size="11.90" text-anchor="middle" font-weight="normal" fill="#161616" stroke="#161616" stroke-width="0.3" textLength="27.0" lengthAdjust="spacingAndGlyphs">2017</text>
<text x="174.8" y="1211.4" font-size="11.90" text-anchor="middle" font-weight="normal" fill="#161616" stroke="#161616" stroke-width="0.3" textLength="21.5" lengthAdjust="spacingAndGlyphs">(11)</text>
<text x="227.4" y="1179.9" font-size="11.90" text-anchor="middle" font-weight="normal" fill="#161616" stroke="#161616" stroke-width="0.3" textLength="43.4" lengthAdjust="spacingAndGlyphs">Oct-Dec</text>
<text x="227.4" y="1196.3" font-size="11.90" text-anchor="middle" font-weight="normal" fill="#161616" stroke="#161616" stroke-width="0.3" textLength="27.0" lengthAdjust="spacingAndGlyphs">2017</text>
<text x="227.4" y="1211.4" font-size="11.90" text-anchor="middle" font-weight="normal" fill="#161616" stroke="#161616" stroke-width="0.3" textLength="21.5" lengthAdjust="spacingAndGlyphs">(17)</text>
<text x="281.1" y="1179.9" font-size="11.90" text-anchor="middle" font-weight="normal" fill="#161616" stroke="#161616" stroke-width="0.3" textLength="44.0" lengthAdjust="spacingAndGlyphs">Jan-Mar</text>
<text x="281.1" y="1196.3" font-size="11.90" text-anchor="middle" font-weight="normal" fill="#161616" stroke="#161616" stroke-width="0.3" textLength="27.0" lengthAdjust="spacingAndGlyphs">2018</text>
<text x="281.1" y="1211.4" font-size="11.90" text-anchor="middle" font-weight="normal" fill="#161616" stroke="#161616" stroke-width="0.3" textLength="21.5" lengthAdjust="spacingAndGlyphs">(22)</text>
<text x="334.5" y="1179.9" font-size="11.90" text-anchor="middle" font-weight="normal" fill="#161616" stroke="#161616" stroke-width="0.3" textLength="41.6" lengthAdjust="spacingAndGlyphs">Apr-Jun</text>
<text x="334.5" y="1196.3" font-size="11.90" text-anchor="middle" font-weight="normal" fill="#161616" stroke="#161616" stroke-width="0.3" textLength="27.0" lengthAdjust="spacingAndGlyphs">2018</text>
<text x="334.5" y="1211.4" font-size="11.90" text-anchor="middle" font-weight="normal" fill="#161616" stroke="#161616" stroke-width="0.3" textLength="14.8" lengthAdjust="spacingAndGlyphs">(9)</text>
<text x="387.9" y="1179.9" font-size="11.90" text-anchor="middle" font-weight="normal" fill="#161616" stroke="#161616" stroke-width="0.3" textLength="38.1" lengthAdjust="spacingAndGlyphs">Jul-Sep</text>
<text x="387.9" y="1196.3" font-size="11.90" text-anchor="middle" font-weight="normal" fill="#161616" stroke="#161616" stroke-width="0.3" textLength="27.0" lengthAdjust="spacingAndGlyphs">2018</text>
<text x="387.9" y="1211.4" font-size="11.90" text-anchor="middle" font-weight="normal" fill="#161616" stroke="#161616" stroke-width="0.3" textLength="21.5" lengthAdjust="spacingAndGlyphs">(23)</text>
<text x="441.4" y="1179.9" font-size="11.90" text-anchor="middle" font-weight="normal" fill="#161616" stroke="#161616" stroke-width="0.3" textLength="43.4" lengthAdjust="spacingAndGlyphs">Oct-Dec</text>
<text x="441.4" y="1196.3" font-size="11.90" text-anchor="middle" font-weight="normal" fill="#161616" stroke="#161616" stroke-width="0.3" textLength="27.0" lengthAdjust="spacingAndGlyphs">2018</text>
<text x="441.4" y="1211.4" font-size="11.90" text-anchor="middle" font-weight="normal" fill="#161616" stroke="#161616" stroke-width="0.3" textLength="21.5" lengthAdjust="spacingAndGlyphs">(16)</text>
<text x="495.0" y="1179.9" font-size="11.90" text-anchor="middle" font-weight="normal" fill="#161616" stroke="#161616" stroke-width="0.3" textLength="44.0" lengthAdjust="spacingAndGlyphs">Jan-Mar</text>
<text x="495.0" y="1196.3" font-size="11.90" text-anchor="middle" font-weight="normal" fill="#161616" stroke="#161616" stroke-width="0.3" textLength="27.0" lengthAdjust="spacingAndGlyphs">2019</text>
<text x="495.0" y="1211.4" font-size="11.90" text-anchor="middle" font-weight="normal" fill="#161616" stroke="#161616" stroke-width="0.3" textLength="21.5" lengthAdjust="spacingAndGlyphs">(14)</text>
<text x="548.3" y="1179.9" font-size="11.90" text-anchor="middle" font-weight="normal" fill="#161616" stroke="#161616" stroke-width="0.3" textLength="41.6" lengthAdjust="spacingAndGlyphs">Apr-Jun</text>
<text x="548.3" y="1196.3" font-size="11.90" text-anchor="middle" font-weight="normal" fill="#161616" stroke="#161616" stroke-width="0.3" textLength="27.0" lengthAdjust="spacingAndGlyphs">2019</text>
<text x="548.3" y="1211.4" font-size="11.90" text-anchor="middle" font-weight="normal" fill="#161616" stroke="#161616" stroke-width="0.3" textLength="21.5" lengthAdjust="spacingAndGlyphs">(11)</text>
<text x="601.6" y="1179.9" font-size="11.90" text-anchor="middle" font-weight="normal" fill="#161616" stroke="#161616" stroke-width="0.3" textLength="38.1" lengthAdjust="spacingAndGlyphs">Jul-Sep</text>
<text x="601.6" y="1196.3" font-size="11.90" text-anchor="middle" font-weight="normal" fill="#161616" stroke="#161616" stroke-width="0.3" textLength="27.0" lengthAdjust="spacingAndGlyphs">2019</text>
<text x="601.6" y="1211.4" font-size="11.90" text-anchor="middle" font-weight="normal" fill="#161616" stroke="#161616" stroke-width="0.3" textLength="21.5" lengthAdjust="spacingAndGlyphs">(18)</text>
<text x="654.3" y="1179.9" font-size="11.90" text-anchor="middle" font-weight="normal" fill="#161616" stroke="#161616" stroke-width="0.3" textLength="43.4" lengthAdjust="spacingAndGlyphs">Oct-Dec</text>
<text x="654.3" y="1196.3" font-size="11.90" text-anchor="middle" font-weight="normal" fill="#161616" stroke="#161616" stroke-width="0.3" textLength="27.0" lengthAdjust="spacingAndGlyphs">2019</text>
<text x="654.3" y="1211.4" font-size="11.90" text-anchor="middle" font-weight="normal" fill="#161616" stroke="#161616" stroke-width="0.3" textLength="21.5" lengthAdjust="spacingAndGlyphs">(19)</text>
<text x="362.0" y="1232.2" font-size="12.40" text-anchor="middle" font-weight="bold" fill="#161616" stroke="#161616" stroke-width="0.3" textLength="121.6" lengthAdjust="spacingAndGlyphs">Birth Quarter, Year (N)</text>
<text x="0.0" y="0.0" font-size="12.40" text-anchor="middle" font-weight="bold" fill="#161616" stroke="#161616" stroke-width="0.3" textLength="112.0" lengthAdjust="spacingAndGlyphs" transform="translate(9.3,1039.0) rotate(-90)">Length of Stay (Days)</text>
<path d="M67.6,1049.0 L121.4,1014.9" fill="none" stroke="#dc2228" stroke-width="1.5" stroke-linejoin="miter"/>
<path d="M334.5,1101.7 L388.5,1105.2" fill="none" stroke="#dc2228" stroke-width="1.5" stroke-linejoin="miter"/>
<path d="M388.5,1105.2 L441.4,1112.1" fill="none" stroke="#dc2228" stroke-width="1.5" stroke-linejoin="miter"/>
<path d="M441.4,1112.1 L495.0,1096.8" fill="none" stroke="#dc2228" stroke-width="1.5" stroke-linejoin="miter"/>
<path d="M495.0,1096.8 L548.3,1113.5" fill="none" stroke="#dc2228" stroke-width="1.5" stroke-linejoin="miter"/>
<path d="M548.3,1113.5 L601.6,1101.0" fill="none" stroke="#dc2228" stroke-width="1.5" stroke-linejoin="miter"/>
<path d="M601.6,1101.0 L654.3,1117.0" fill="none" stroke="#dc2228" stroke-width="1.5" stroke-linejoin="miter"/>
<path d="M121.4,1014.9 L174.8,1090.6 L227.4,1076.0 L281.1,1053.1 L334.5,1101.7" fill="none" stroke="#4169e8" stroke-width="2.6" stroke-linejoin="miter"/>
<path d="M67.6,1044.4 L72.2,1049.0 L67.6,1053.6 L63.0,1049.0Z" fill="#ff0000"/>
<path d="M121.4,1010.3 L126.0,1014.9 L121.4,1019.5 L116.8,1014.9Z" fill="#ff0000"/>
<rect x="170.9" y="1086.9" width="7.8" height="7.4" fill="#0000ff"/>
<rect x="223.5" y="1072.3" width="7.8" height="7.4" fill="#0000ff"/>
<path d="M281.1,1048.5 L285.7,1053.1 L281.1,1057.7 L276.5,1053.1Z" fill="#ff0000"/>
<path d="M334.5,1097.1 L339.1,1101.7 L334.5,1106.3 L329.9,1101.7Z" fill="#ff0000"/>
<path d="M388.5,1100.6 L393.1,1105.2 L388.5,1109.8 L383.9,1105.2Z" fill="#ff0000"/>
<path d="M441.4,1107.5 L446.1,1112.1 L441.4,1116.7 L436.8,1112.1Z" fill="#ff0000"/>
<path d="M495.0,1092.2 L499.6,1096.8 L495.0,1101.4 L490.4,1096.8Z" fill="#ff0000"/>
<path d="M548.3,1108.9 L552.9,1113.5 L548.3,1118.1 L543.7,1113.5Z" fill="#ff0000"/>
<path d="M601.6,1096.4 L606.2,1101.0 L601.6,1105.6 L597.0,1101.0Z" fill="#ff0000"/>
<path d="M654.3,1112.4 L658.9,1117.0 L654.3,1121.6 L649.7,1117.0Z" fill="#ff0000"/>
<path d="M67.6,1057.5 L281.1,1057.5 L334.5,1107.5 L654.3,1107.5" fill="none" stroke="#c0c0c0" stroke-width="1.7" stroke-linejoin="miter"/>
<clipPath id="clip419"><rect x="41.9" y="910.4" width="641.3" height="248.9"/></clipPath>
<path d="M41.9,1004.4 L95.3,1004.4 L95.3,1017.7 L149.0,1017.7 L149.0,1016.3 L200.7,1016.3 L200.7,1023.1 L254.2,1023.1 L254.2,1027.9 L308.0,1027.9 L308.0,1061.3 L361.0,1061.3 L361.0,1078.3 L414.7,1078.3 L414.7,1073.0 L468.2,1073.0 L468.2,1070.3 L521.7,1070.3 L521.7,1065.5 L574.9,1065.5 L574.9,1095.4 L628.4,1095.4 L628.4,1097.0 L680.2,1097.0" fill="none" stroke="#dc2228" stroke-width="1.5" stroke-linejoin="miter" clip-path="url(#clip419)"/>
<path d="M41.9,1108.4 L95.3,1108.4 L95.3,1095.6 L149.0,1095.6 L149.0,1096.9 L200.7,1096.9 L200.7,1088.8 L254.2,1088.8 L254.2,1084.7 L308.0,1084.7 L308.0,1150.6 L361.0,1150.6 L361.0,1134.4 L414.7,1134.4 L414.7,1139.2 L468.2,1139.2 L468.2,1142.2 L521.7,1142.2 L521.7,1146.5 L574.9,1146.5 L574.9,1117.8 L628.4,1117.8 L628.4,1116.1 L680.2,1116.1" fill="none" stroke="#dc2228" stroke-width="1.5" stroke-linejoin="miter" clip-path="url(#clip419)"/>
<text x="67.6" y="1036.3" font-size="11.90" text-anchor="middle" font-weight="normal" fill="#161616" stroke="#161616" stroke-width="0.3" textLength="23.6" lengthAdjust="spacingAndGlyphs">15.9</text>
<text x="120.9" y="1001.7" font-size="11.90" text-anchor="middle" font-weight="normal" fill="#161616" stroke="#161616" stroke-width="0.3" textLength="23.6" lengthAdjust="spacingAndGlyphs">20.8</text>
<text x="176.9" y="1078.3" font-size="11.90" text-anchor="middle" font-weight="normal" fill="#161616" stroke="#161616" stroke-width="0.3" textLength="16.8" lengthAdjust="spacingAndGlyphs">9.9</text>
<text x="227.7" y="1099.2" font-size="11.90" text-anchor="middle" font-weight="normal" fill="#161616" stroke="#161616" stroke-width="0.3" textLength="23.6" lengthAdjust="spacingAndGlyphs">12.0</text>
<text x="388.2" y="1094.7" font-size="11.90" text-anchor="middle" font-weight="normal" fill="#161616" stroke="#161616" stroke-width="0.3" textLength="16.8" lengthAdjust="spacingAndGlyphs">7.8</text>
<text x="441.5" y="1100.1" font-size="11.90" text-anchor="middle" font-weight="normal" fill="#161616" stroke="#161616" stroke-width="0.3" textLength="16.8" lengthAdjust="spacingAndGlyphs">6.8</text>
<text x="494.2" y="1086.7" font-size="11.90" text-anchor="middle" font-weight="normal" fill="#161616" stroke="#161616" stroke-width="0.3" textLength="16.8" lengthAdjust="spacingAndGlyphs">9.0</text>
<text x="547.5" y="1101.7" font-size="11.90" text-anchor="middle" font-weight="normal" fill="#161616" stroke="#161616" stroke-width="0.3" textLength="16.8" lengthAdjust="spacingAndGlyphs">6.6</text>
<text x="600.8" y="1124.0" font-size="11.90" text-anchor="middle" font-weight="normal" fill="#161616" stroke="#161616" stroke-width="0.3" textLength="16.8" lengthAdjust="spacingAndGlyphs">8.4</text>
<text x="655.6" y="1139.0" font-size="11.90" text-anchor="middle" font-weight="normal" fill="#161616" stroke="#161616" stroke-width="0.3" textLength="16.8" lengthAdjust="spacingAndGlyphs">6.1</text>
<text x="48.0" y="993.8" font-size="11.90" text-anchor="start" font-weight="normal" fill="#161616" stroke="#161616" stroke-width="0.3" textLength="21.2" lengthAdjust="spacingAndGlyphs">UCL</text>
<text x="49.5" y="1128.7" font-size="11.90" text-anchor="start" font-weight="normal" fill="#161616" stroke="#161616" stroke-width="0.3" textLength="18.3" lengthAdjust="spacingAndGlyphs">LCL</text>
<rect x="159.9" y="1032.7" width="101.2" height="18.3" fill="#fff" stroke="#a6a6a6" stroke-width="1"/>
<text x="210.5" y="1046.0" font-size="10.47" text-anchor="middle" font-weight="normal" fill="#161616" stroke="#161616" stroke-width="0.3" textLength="93.4" lengthAdjust="spacingAndGlyphs">Pre-ESC Mean, 14.8</text>
<rect x="414.6" y="1044.6" width="101.1" height="18.1" fill="#fff" stroke="#a6a6a6" stroke-width="1"/>
<text x="465.2" y="1058.7" font-size="10.47" text-anchor="middle" font-weight="normal" fill="#161616" stroke="#161616" stroke-width="0.3" textLength="92.2" lengthAdjust="spacingAndGlyphs">Post-ESC Mean, 7.6</text>
<path d="M281.1,961.3 L282.0,1052.4" fill="none" stroke="#000" stroke-width="1.2" stroke-linejoin="miter"/>
<rect x="215.4" y="926.3" width="130.1" height="35.0" fill="#fff" stroke="#000" stroke-width="1.3"/>
<text x="280.4" y="941.0" font-size="11.68" text-anchor="middle" font-weight="normal" fill="#161616" stroke="#161616" stroke-width="0.3" textLength="122.7" lengthAdjust="spacingAndGlyphs">Staff Education on ESC,</text>
<text x="280.4" y="956.3" font-size="11.68" text-anchor="middle" font-weight="normal" fill="#161616" stroke="#161616" stroke-width="0.3" textLength="23.1" lengthAdjust="spacingAndGlyphs">15.3</text>
<path d="M388.8,1013.5 L335.3,1100.1" fill="none" stroke="#000" stroke-width="1.2" stroke-linejoin="miter"/>
<rect x="326.9" y="971.9" width="167.9" height="41.6" fill="#fff" stroke="#000" stroke-width="1.3"/>
<text x="410.9" y="990.9" font-size="11.68" text-anchor="middle" font-weight="normal" fill="#161616" stroke="#161616" stroke-width="0.3" textLength="122.4" lengthAdjust="spacingAndGlyphs">ESC assessment began,</text>
<text x="410.9" y="1006.0" font-size="11.68" text-anchor="middle" font-weight="normal" fill="#161616" stroke="#161616" stroke-width="0.3" textLength="157.3" lengthAdjust="spacingAndGlyphs">Change to PRN Morphine, 8.3</text>
<text x="21" y="878.8" font-size="15" font-weight="bold" fill="#000">c</text>
</svg>
</body></html>
